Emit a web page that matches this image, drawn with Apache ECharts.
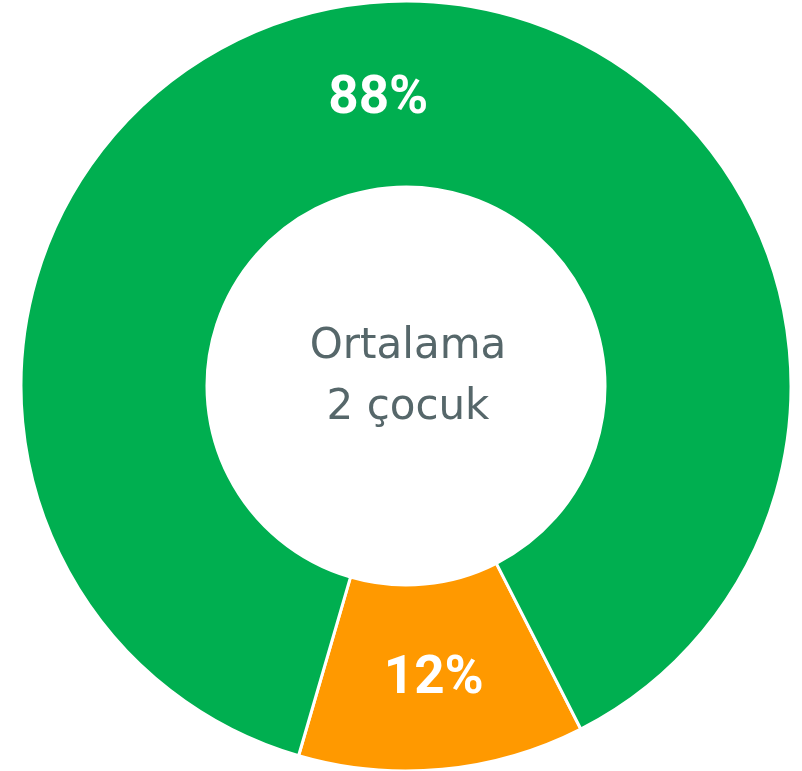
<!DOCTYPE html>
<html>
<head>
<meta charset="utf-8">
<script src="https://cdn.jsdelivr.net/npm/echarts@6/dist/echarts.min.js"></script>
<style>
  html, body { margin: 0; padding: 0; background: #fff; }
  #chart { width: 802px; height: 771px; }
</style>
</head>
<body>
<div id="chart"></div>
<script>
// slice names and shares (percent)
const categories = ['2 çocuktan fazla', 'Diğer']
const values = [12, 88]
const colors = ['#FF9900', '#00AF50']
const centerText = 'Ortalama\n2 çocuk'

const chart = echarts.init(document.getElementById('chart'))

chart.setOption({
  animation: false,
  graphic: [{
    type: 'text',
    x: 408,
    y: 378,
    style: {
      text: centerText,
      fill: '#56676A',
      font: '42px "DejaVu Sans"',
      lineHeight: 61,
      align: 'center',
      verticalAlign: 'middle'
    }
  }],
  series: [{
    type: 'pie',
    center: [406, 386],
    radius: [199, 385],
    startAngle: -63,
    clockwise: true,
    avoidLabelOverlap: false,
    itemStyle: {
      borderColor: '#fff',
      borderWidth: 3
    },
    label: {
      show: true,
      position: 'inside',
      formatter: '{d}%',
      color: '#fff',
      fontFamily: 'Roboto',
      fontWeight: 'bold',
      fontSize: 53
    },
    // nudge the top label down a little
    labelLayout: (p) => (p.dataIndex === 1 ? { dy: 7 } : {}),
    labelLine: { show: false },
    emphasis: { disabled: true },
    data: categories.map((name, i) => ({
      name,
      value: values[i],
      itemStyle: { color: colors[i] }
    }))
  }]
})
</script>
</body>
</html>
